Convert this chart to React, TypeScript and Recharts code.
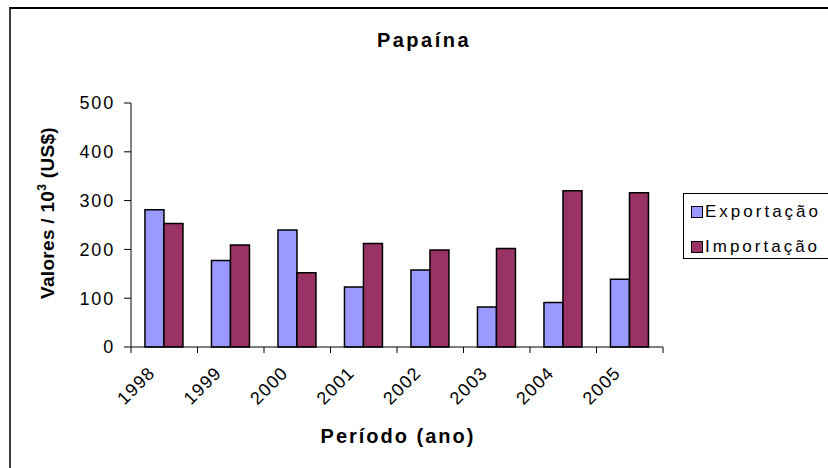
import React from 'react';
import { BarChart, Bar, XAxis, YAxis, Legend, Customized } from 'recharts';

const years = ['1998', '1999', '2000', '2001', '2002', '2003', '2004', '2005'];
const exportacao = [281, 177, 240, 123, 158, 82, 91, 139];
const importacao = [253, 209, 152, 212, 199, 202, 320, 316];
const yTicks = [0, 100, 200, 300, 400, 500];

const data = years.map((ano, i) => ({ ano, exportacao: exportacao[i], importacao: importacao[i] }));

const FONT = '"Liberation Sans", Arial, Helvetica, sans-serif';
const W = 828;
const H = 468;
const PLOT_LEFT = 131;
const PLOT_RIGHT = 663;
const PLOT_TOP = 103;
const PLOT_BOTTOM = 347;
const BAND = (PLOT_RIGHT - PLOT_LEFT) / years.length;

const EXP_COLOR = '#9999FF';
const IMP_COLOR = '#993366';

const XTick = (props: any) => {
  const { x, index } = props;
  const value = props.payload?.value;
  const left = x - BAND / 2;
  const tx = x - 8;
  const ty = 374;
  return (
    <g>
      <line x1={left} y1={PLOT_BOTTOM} x2={left} y2={PLOT_BOTTOM + 6} stroke="#000" strokeWidth={1} />
      {index === years.length - 1 && (
        <line x1={x + BAND / 2} y1={PLOT_BOTTOM} x2={x + BAND / 2} y2={PLOT_BOTTOM + 6} stroke="#000" strokeWidth={1} />
      )}
      <text
        x={tx}
        y={ty}
        transform={`rotate(-45 ${tx} ${ty})`}
        textAnchor="end"
        fontSize={18}
        fontFamily={FONT}
        letterSpacing={1.2}
        fill="#000"
      >
        {value}
      </text>
    </g>
  );
};

const renderLegend = () => {
  const items = [
    { label: 'Exportação', color: EXP_COLOR },
    { label: 'Importação', color: IMP_COLOR },
  ];
  return (
    <div
      style={{
        border: '1px solid #000',
        background: '#fff',
        width: 160,
        height: 66,
        boxSizing: 'border-box',
        paddingLeft: 7,
        paddingTop: 9,
        fontFamily: FONT,
        fontSize: 17,
        letterSpacing: 3,
        color: '#000',
      }}
    >
      {items.map((it, i) => (
        <div key={it.label} style={{ display: 'flex', alignItems: 'center', height: 18, marginBottom: i === 0 ? 17 : 0, whiteSpace: 'nowrap' }}>
          <span
            style={{
              display: 'inline-block',
              width: 10,
              height: 10,
              background: it.color,
              border: '1px solid #000',
              marginRight: 2,
              flex: 'none',
            }}
          />
          <span>{it.label}</span>
        </div>
      ))}
    </div>
  );
};

const Decorations = () => (
  <g>
    <text
      x={424}
      y={47}
      textAnchor="middle"
      fontFamily={FONT}
      fontWeight="bold"
      fontSize={20}
      letterSpacing={2.5}
      fill="#000"
    >
      Papaína
    </text>
    <text
      x={398}
      y={443}
      textAnchor="middle"
      fontFamily={FONT}
      fontWeight="bold"
      fontSize={20}
      letterSpacing={2}
      fill="#000"
    >
      Período (ano)
    </text>
    <text
      x={54}
      y={213}
      transform="rotate(-90 54 213)"
      textAnchor="middle"
      fontFamily={FONT}
      fontWeight="bold"
      fontSize={19}
      letterSpacing={0.3}
      fill="#000"
    >
      Valores / 10
      <tspan fontSize={12} dy={-8}>3</tspan>
      <tspan dy={8}> (US$)</tspan>
    </text>
  </g>
);

export default function App() {
  return (
    <div style={{ position: 'absolute', left: 0, top: 0, width: W, height: H, overflow: 'hidden', background: '#fff' }}>
      <div
        style={{
          position: 'absolute',
          left: 9,
          top: 7,
          width: 900,
          height: 600,
          borderLeft: '2px solid #3c3c3c',
          borderTop: '2px solid #000',
          boxSizing: 'border-box',
        }}
      />
      <BarChart
        width={W}
        height={H}
        data={data}
        margin={{ top: PLOT_TOP, right: W - PLOT_RIGHT, bottom: H - PLOT_BOTTOM - 60, left: PLOT_LEFT - 60 }}
        barGap={0}
        barCategoryGap="21%"
      >
        <XAxis
          dataKey="ano"
          height={60}
          tickLine={false}
          axisLine={{ stroke: '#000', strokeWidth: 1 }}
          tick={<XTick />}
          interval={0}
        />
        <YAxis
          width={60}
          domain={[0, 500]}
          ticks={yTicks}
          interval={0}
          tickSize={7}
          tickMargin={9}
          axisLine={{ stroke: '#000', strokeWidth: 1 }}
          tickLine={{ stroke: '#000', strokeWidth: 1 }}
          tick={{ fontSize: 18, fontFamily: FONT, fill: '#000', letterSpacing: 1.8 }}
        />
        <Bar dataKey="exportacao" name="Exportação" fill={EXP_COLOR} stroke="#000" strokeWidth={1.5} isAnimationActive={false} />
        <Bar dataKey="importacao" name="Importação" fill={IMP_COLOR} stroke="#000" strokeWidth={1.5} isAnimationActive={false} />
        <Legend
          layout="horizontal"
          verticalAlign="middle"
          align="center"
          content={renderLegend}
          wrapperStyle={{ position: 'absolute', left: 683, top: 193, width: 160, height: 66, bottom: 'auto', right: 'auto' }}
        />
        <Customized component={Decorations} />
      </BarChart>
    </div>
  );
}
